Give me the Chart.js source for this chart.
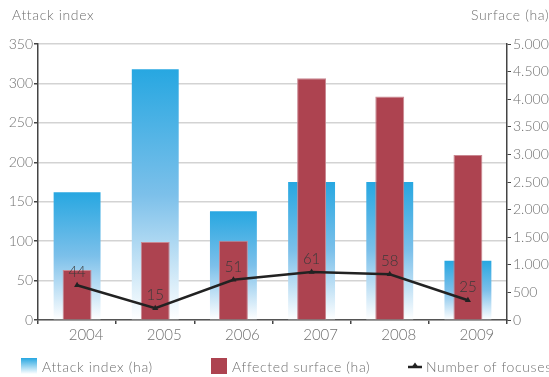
<!DOCTYPE html>
<html>
<head>
<meta charset="utf-8">
<script src="https://cdn.jsdelivr.net/npm/chart.js@4.4.0/dist/chart.umd.min.js"></script>
<style>
  html, body { margin: 0; padding: 0; background: #fff; }
  #wrap { position: relative; width: 549px; height: 377px; overflow: hidden; font-family: 'Lato', sans-serif; font-weight: 300; color: #707070; }
  canvas { position: absolute; left: 0; top: 0; }
  .t { position: absolute; font-size: 14px; white-space: nowrap; line-height: 16px; letter-spacing: 0.65px; }
  .sw { position: absolute; width: 16px; height: 16px; }
</style>
</head>
<body>
<div id="wrap">
  <canvas id="c" width="549" height="377"></canvas>
  <div class="t" style="left:12px; top:7px;">Attack index</div>
  <div class="t" style="left:471px; top:7px;">Surface (ha)</div>
  <div class="sw" style="left:21px; top:358px; background:linear-gradient(#27a7e1,#ffffff);"></div>
  <div class="t" style="left:42px; top:359px;">Attack index (ha)</div>
  <div class="sw" style="left:211px; top:358px; background:#ad4350;"></div>
  <div class="t" style="left:232px; top:359px;">Affected surface (ha)</div>
  <svg style="position:absolute; left:408px; top:361px;" width="14" height="10">
    <line x1="0" y1="6" x2="14" y2="6" stroke="#222" stroke-width="2.5"/>
    <polygon points="7,1.5 11,7 3,7" fill="#222"/>
  </svg>
  <div class="t" style="left:426px; top:359px;">Number of focuses</div>
</div>
<script>
const categories = ['2004', '2005', '2006', '2007', '2008', '2009'];
const attackIndex = [162, 318, 138, 175, 175, 75];
const affectedSurface = [905, 1415, 1435, 4380, 4050, 2990];
const focuses = [44, 15, 51, 61, 58, 25];
const leftTicksMax = 350;
const rightTicksMax = 5000;

const labelPlugin = {
  id: 'pointLabels',
  afterDatasetsDraw(chart) {
    const meta = chart.getDatasetMeta(2);
    const ctx = chart.ctx;
    ctx.save();
    ctx.font = '300 15px Lato, sans-serif';
    ctx.fillStyle = '#3a3a3a';
    ctx.textAlign = 'center';
    ctx.textBaseline = 'middle';
    meta.data.forEach((pt, i) => {
      ctx.fillText(String(focuses[i]), pt.x, pt.y - 13);
    });
    ctx.restore();
  }
};

function blueGrad(c) {
  const chart = c.chart;
  const { chartArea, scales } = chart;
  if (!chartArea || c.type !== 'data') return '#27a7e1';
  const top = scales.y.getPixelForValue(c.raw);
  const bot = scales.y.getPixelForValue(0);
  const g = chart.ctx.createLinearGradient(0, top, 0, bot);
  g.addColorStop(0, '#27a7e1');
  g.addColorStop(0.5, '#7cc0ea');
  g.addColorStop(1, '#ffffff');
  return g;
}

const tickFont = { family: 'Lato, sans-serif', size: 14, weight: '300' };
const xFont = { family: 'Lato, sans-serif', size: 15, weight: '300' };

new Chart(document.getElementById('c'), {
  data: {
    labels: categories,
    datasets: [
      {
        type: 'bar', label: 'Attack index (ha)', data: attackIndex, yAxisID: 'y',
        backgroundColor: blueGrad, grouped: false, categoryPercentage: 1, barPercentage: 0.6, order: 3
      },
      {
        type: 'bar', label: 'Affected surface (ha)', data: affectedSurface, yAxisID: 'y1',
        backgroundColor: '#ad4350', borderColor: '#c98791', borderWidth: 1,
        grouped: false, categoryPercentage: 1, barPercentage: 0.37, order: 2
      },
      {
        type: 'line', label: 'Number of focuses', data: focuses, yAxisID: 'y',
        borderColor: '#222', borderWidth: 2.5, backgroundColor: '#222',
        pointStyle: 'triangle', pointRadius: 3.5, pointBorderWidth: 0, tension: 0, order: 1
      }
    ]
  },
  options: {
    responsive: false,
    animation: false,
    layout: { padding: { top: 44, bottom: 35, left: 0, right: 0 } },
    plugins: { legend: { display: false }, tooltip: { enabled: false } },
    scales: {
      x: {
        offset: true,
        grid: { display: true, drawOnChartArea: false, offset: true, tickColor: '#444', tickLength: 4, lineWidth: 1.5 },
        border: { color: '#555', width: 1.5 },
        ticks: { font: xFont, color: '#707070', padding: 2, labelOffset: 9, maxRotation: 0 },
        afterFit(s) { s.height = 22; }
      },
      y: {
        position: 'left', min: 0, max: leftTicksMax,
        ticks: { stepSize: 50, font: tickFont, color: '#707070', padding: 1 },
        grid: { color: '#d3d3d3', lineWidth: 1.5, tickColor: '#444', tickLength: 4 },
        border: { color: '#444', width: 1.5 },
        afterFit(s) { s.width = 38; }
      },
      y1: {
        position: 'right', min: 0, max: rightTicksMax,
        ticks: {
          stepSize: 500, font: tickFont, color: '#707070', padding: 2,
          callback: (v) => v >= 1000 ? Math.floor(v / 1000) + '.' + String(v % 1000).padStart(3, '0') : String(v)
        },
        grid: { drawOnChartArea: false, tickColor: '#444', tickLength: 4 },
        border: { color: '#444', width: 1.5 },
        afterFit(s) { s.width = 42; }
      }
    }
  },
  plugins: [labelPlugin]
});
</script>
</body>
</html>
